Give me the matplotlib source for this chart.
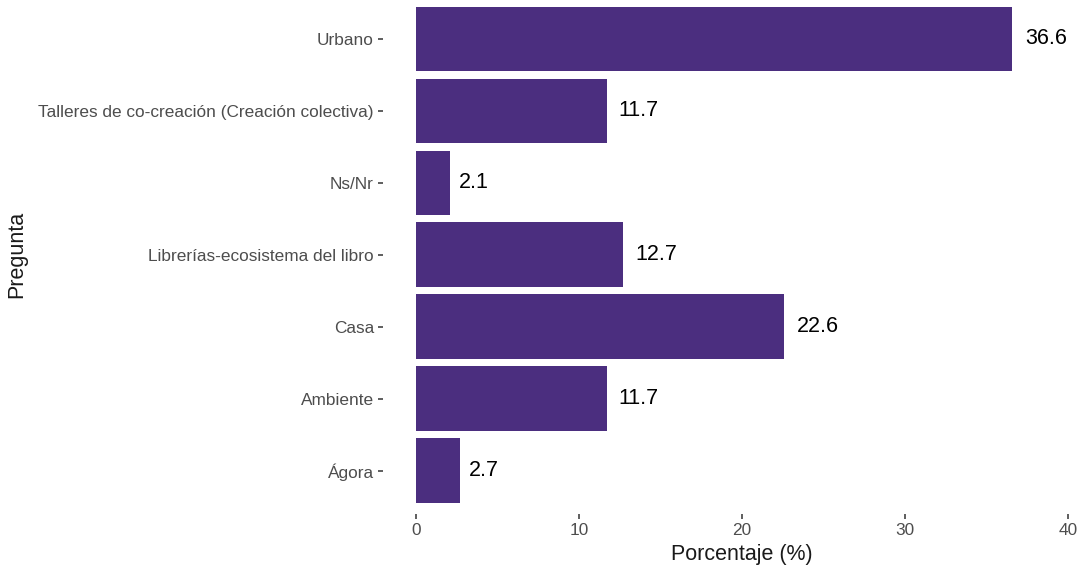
import matplotlib.pyplot as plt
from matplotlib.transforms import offset_copy

plt.rcParams["font.family"] = ["Liberation Sans", "DejaVu Sans"]

categories = [
    "Urbano",
    "Talleres de co-creación (Creación colectiva)",
    "Ns/Nr",
    "Librerías-ecosistema del libro",
    "Casa",
    "Ambiente",
    "Ágora",
]
values = [36.6, 11.7, 2.1, 12.7, 22.6, 11.7, 2.7]
x_ticks = [0, 10, 20, 30, 40]

BAR_COLOR = "#4b2e7f"

fig = plt.figure(figsize=(10.82, 5.72), dpi=100)
# panel runs a bit past the top/right edge, like the cropped original
ax = fig.add_axes([0.3543, 0.1014, 0.6628, 0.906])

ypos = list(range(len(categories)))[::-1]
ax.barh(ypos, values, height=0.9, color=BAR_COLOR)

ax.set_xlim(-2, 42)
ax.set_ylim(-0.6, len(categories) - 0.4)
ax.set_xticks(x_ticks)
ax.set_yticks(ypos)
ax.set_yticklabels(categories)

for s in ax.spines.values():
    s.set_visible(False)
ax.tick_params(axis="both", length=3.8, width=1.1, color="#333333",
               labelcolor="#4d4d4d", labelsize=12.4, pad=3)

ax.set_xlabel("Porcentaje (%)", fontsize=15.5, labelpad=4, color="#1a1a1a")
ax.set_ylabel("Pregunta", fontsize=15.5, labelpad=8, color="#1a1a1a")

# value labels, pushed right by 30% of their own width (hjust = -0.3)
fig.canvas.draw()
renderer = fig.canvas.get_renderer()
for y, v in zip(ypos, values):
    t = ax.text(v, y, f"{v:.1f}", ha="left", va="center", fontsize=15.5, color="black")
    w = t.get_window_extent(renderer).width
    t.set_transform(offset_copy(ax.transData, fig=fig, x=0.3 * w, y=0, units="dots"))

fig.savefig("out.png", dpi=100)
